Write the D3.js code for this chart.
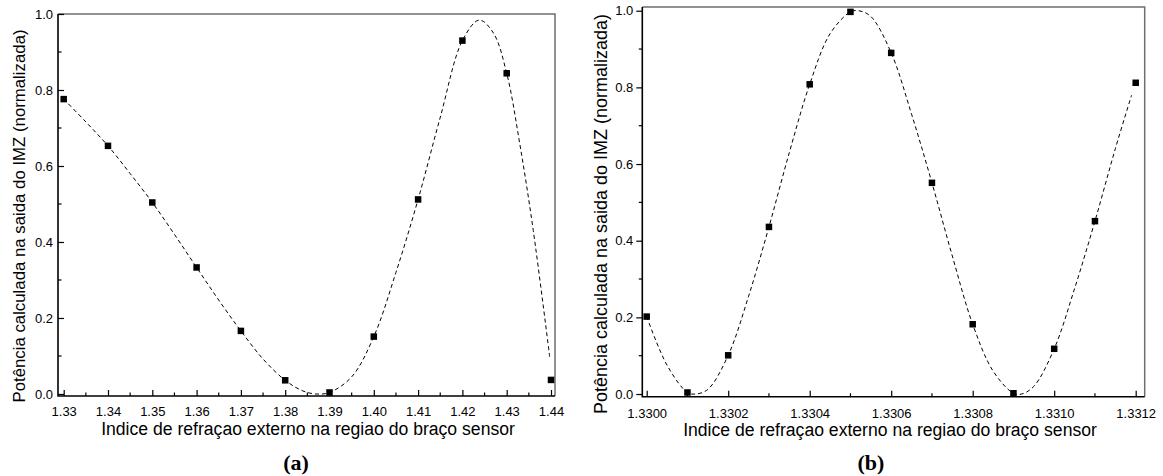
<!DOCTYPE html>
<html>
<head>
<meta charset="utf-8">
<script src="https://cdn.jsdelivr.net/npm/d3@7"></script>
<style>
  html, body { margin: 0; padding: 0; background: #fff; }
  svg { display: block; }
  text { font-family: "Liberation Sans", Arial, sans-serif; fill: #000; }
</style>
</head>
<body>
<script>
// ---- Panel (a): refractive index 1.33 – 1.44 ----
const indexA = [1.33, 1.34, 1.35, 1.36, 1.37, 1.38, 1.39, 1.40, 1.41, 1.42, 1.43, 1.44];
const powerA = [0.776, 0.653, 0.504, 0.333, 0.166, 0.036, 0.004, 0.151, 0.512, 0.930, 0.844, 0.037];
// dashed model curve for panel (a)
const curveIndexA = [1.330, 1.335, 1.340, 1.345, 1.350, 1.355, 1.360, 1.365, 1.370, 1.375, 1.380, 1.384, 1.387,
                     1.390, 1.395, 1.400, 1.405, 1.410, 1.415, 1.420, 1.4238, 1.427, 1.430, 1.433, 1.436, 1.4397];
const curvePowerA = [0.776, 0.716, 0.653, 0.580, 0.504, 0.420, 0.333, 0.247, 0.166, 0.092, 0.036, 0.008, 0.000,
                     0.004, 0.045, 0.151, 0.320, 0.512, 0.728, 0.930, 0.984, 0.950, 0.844, 0.655, 0.430, 0.098];

// ---- Panel (b): refractive index 1.3300 – 1.3312 ----
const indexB = [1.3300, 1.3301, 1.3302, 1.3303, 1.3304, 1.3305, 1.3306, 1.3307, 1.3308, 1.3309, 1.3310, 1.3311, 1.3312];
const powerB = [0.202, 0.004, 0.101, 0.436, 0.808, 0.997, 0.890, 0.551, 0.182, 0.002, 0.118, 0.451, 0.812];
// dashed model curve for panel (b)
const curveIndexB = [1.33000, 1.33005, 1.33010, 1.33012, 1.33015, 1.33020, 1.33025, 1.33030, 1.33035, 1.33040,
                     1.33045, 1.33050, 1.33052, 1.33055, 1.33060, 1.33065, 1.33070, 1.33075, 1.33080, 1.33085,
                     1.33090, 1.33092, 1.33095, 1.33100, 1.33105, 1.33110, 1.33115, 1.33119];
const curvePowerB = [0.202, 0.075, 0.004, 0.000, 0.012, 0.101, 0.255, 0.436, 0.630, 0.808,
                     0.940, 0.997, 1.000, 0.985, 0.890, 0.730, 0.551, 0.360, 0.182, 0.060,
                     0.002, 0.000, 0.020, 0.118, 0.275, 0.451, 0.640, 0.780];

// ---- tick values and labels ----
const yTicks = [0.0, 0.2, 0.4, 0.6, 0.8, 1.0];
const yMinorTicks = [0.1, 0.3, 0.5, 0.7, 0.9];
const xTicksA = [1.33, 1.34, 1.35, 1.36, 1.37, 1.38, 1.39, 1.40, 1.41, 1.42, 1.43, 1.44];
const xMinorTicksA = [1.335, 1.345, 1.355, 1.365, 1.375, 1.385, 1.395, 1.405, 1.415, 1.425, 1.435];
const xTicksB = [1.3300, 1.3302, 1.3304, 1.3306, 1.3308, 1.3310, 1.3312];
const xMinorTicksB = [1.3301, 1.3303, 1.3305, 1.3307, 1.3309, 1.3311];

const yTitle = "Potência calculada na saida do IMZ (normalizada)";
const xTitle = "Indice de refraçao externo na regiao do braço sensor";

const svg = d3.select("body").append("svg")
  .attr("width", 1163).attr("height", 476);

const TICK_FONT = "13px";

function panel(cfg) {
  const x = d3.scaleLinear().domain(cfg.xDomain).range(cfg.xRange);
  const y = d3.scaleLinear().domain(cfg.yDomain).range(cfg.yRange);
  const g = svg.append("g");
  const [x0, x1] = cfg.xRange, [y0, y1] = cfg.yRange;

  // top and right frame (grey)
  g.append("path")
    .attr("d", `M${x0},${y1}H${x1}V${y0}`)
    .attr("fill", "none").attr("stroke", "#6e6e6e").attr("stroke-width", 1.5);

  // x axis (ticks pointing into the plot)
  const xAxis = g.append("g").attr("transform", `translate(0,${y0})`);
  xAxis.call(d3.axisBottom(x).tickValues(cfg.xTicks).tickSize(-6).tickFormat(cfg.xFormat))
    .call(a => a.select(".domain").remove());
  xAxis.attr("font-size", null).attr("font-family", null);
  xAxis.selectAll(".tick text")
    .attr("dy", null).attr("y", cfg.xLabelY - y0)
    .style("font-size", TICK_FONT).style("font-family", "'Liberation Sans', Arial, sans-serif")
    .attr("fill", "#000");
  xAxis.selectAll(".tick line").attr("stroke", "#000").attr("stroke-width", 1.2);
  xAxis.selectAll(".minor").data(cfg.xMinor).enter().append("line")
    .attr("x1", d => x(d)).attr("x2", d => x(d)).attr("y1", 0).attr("y2", -3.5)
    .attr("stroke", "#000").attr("stroke-width", 1.2);

  // y axis
  const yAxis = g.append("g").attr("transform", `translate(${x0},0)`);
  const tickLen = cfg.yOutward ? 6 : -6;
  yAxis.call(d3.axisLeft(y).tickValues(yTicks).tickSize(tickLen).tickFormat(d3.format(".1f")).tickPadding(cfg.yPad))
    .call(a => a.select(".domain").remove());
  yAxis.attr("font-size", null).attr("font-family", null);
  yAxis.selectAll(".tick text")
    .style("font-size", TICK_FONT).style("font-family", "'Liberation Sans', Arial, sans-serif")
    .attr("fill", "#000");
  yAxis.selectAll(".tick line").attr("stroke", "#000").attr("stroke-width", 1.2);
  yAxis.selectAll(".minor").data(yMinorTicks).enter().append("line")
    .attr("x1", 0).attr("x2", cfg.yOutward ? -3.5 : 3.5)
    .attr("y1", d => y(d)).attr("y2", d => y(d))
    .attr("stroke", "#000").attr("stroke-width", 1.2);

  // left and bottom axis lines (black)
  g.append("path")
    .attr("d", `M${x0},${y1}V${y0}H${x1}`)
    .attr("fill", "none").attr("stroke", "#000").attr("stroke-width", 1.6);

  // dashed curve
  g.append("path")
    .datum(d3.zip(cfg.curveX, cfg.curveY))
    .attr("d", d3.line().x(d => x(d[0])).y(d => y(d[1])).curve(d3.curveCatmullRom.alpha(0.5)))
    .attr("fill", "none").attr("stroke", "#000").attr("stroke-width", 1)
    .attr("stroke-dasharray", "4,3");

  // square markers
  const s = 6.5;
  g.selectAll("rect.pt").data(d3.zip(cfg.px, cfg.py)).enter().append("rect")
    .attr("x", d => x(d[0]) - s / 2).attr("y", d => y(d[1]) - s / 2)
    .attr("width", s).attr("height", s).attr("fill", "#000");

  // axis titles
  g.append("text")
    .attr("transform", `translate(${cfg.yTitleX},${cfg.yTitleY}) rotate(-90)`)
    .attr("text-anchor", "middle").style("font-size", cfg.yTitleSize + "px").text(yTitle);
  g.append("text")
    .attr("x", cfg.xTitleX).attr("y", cfg.xTitleY)
    .attr("text-anchor", "middle").style("font-size", "17.6px").text(xTitle);

  // panel label
  g.append("text")
    .attr("x", cfg.labelX).attr("y", 470)
    .attr("text-anchor", "middle")
    .style("font-family", "'Liberation Serif', 'Times New Roman', serif")
    .style("font-weight", "bold").style("font-size", "22px").text(cfg.label);
}

panel({
  xDomain: [1.328713, 1.440903], xRange: [58, 555],
  yDomain: [-0.0053, 1.0], yRange: [396, 14],
  xTicks: xTicksA, xMinor: xMinorTicksA, xFormat: d3.format(".2f"), xLabelY: 416,
  yOutward: false, yPad: 5,
  curveX: curveIndexA, curveY: curvePowerA, px: indexA, py: powerA,
  yTitleX: 25, yTitleY: 216, yTitleSize: 16.8,
  xTitleX: 308, xTitleY: 435, label: "(a)", labelX: 296
});

panel({
  xDomain: [1.3299892, 1.3312221], xRange: [642.3, 1144.7],
  yDomain: [-0.007, 1.0097], yRange: [396.7, 7],
  xTicks: xTicksB, xMinor: xMinorTicksB, xFormat: d3.format(".4f"), xLabelY: 418,
  yOutward: true, yPad: 3,
  curveX: curveIndexB, curveY: curvePowerB, px: indexB, py: powerB,
  yTitleX: 606.5, yTitleY: 214, yTitleSize: 18,
  xTitleX: 890, xTitleY: 436, label: "(b)", labelX: 871
});
</script>
</body>
</html>
